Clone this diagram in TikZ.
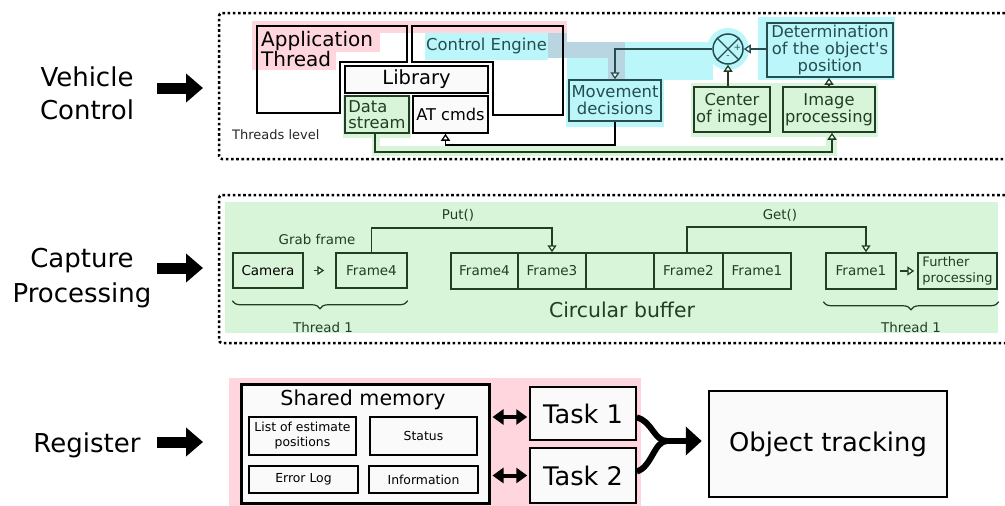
\documentclass[tikz,border=0pt]{standalone}
\usepackage{fontspec}
\setmainfont{DejaVu Sans}
\usetikzlibrary{arrows.meta,decorations.pathreplacing,calc}
\definecolor{pinkbg}{RGB}{255,214,222}
\definecolor{cyanbg}{RGB}{186,246,250}
\definecolor{graybg}{RGB}{184,213,225}
\definecolor{greenbg}{RGB}{217,245,217}
\definecolor{tealc}{RGB}{38,78,78}
\definecolor{greenc}{RGB}{34,62,34}
\definecolor{smfill}{RGB}{250,250,250}
\tikzset{
  fnt/.style 2 args={font=\fontsize{#1}{#2}\selectfont},
  box/.style={line width=1.5pt, inner sep=0pt, align=center},
  tbox/.style={box, draw=tealc, fill=cyanbg, text=tealc},
  gbox/.style={box, draw=greenc, fill=greenbg, text=greenc},
  wbox/.style={box, draw=black, fill=smfill},
  sbox/.style={box, draw=black, fill=smfill, line width=1.3pt, fnt={12.4}{15}},
  dotframe/.style={line width=2.5pt, dash pattern=on 2.6pt off 2.6pt, rounded corners=3pt},
  oarr/.style={line width=1.3pt, -{Triangle[length=7pt,width=9pt,fill=white]}},
  bigarr/.style={line width=11pt, -{Triangle[length=17pt,width=28pt]}},
  dbl/.style={line width=4pt, {Triangle[length=11pt,width=15pt]}-{Triangle[length=11pt,width=15pt]}},
  lbl/.style={align=center, inner sep=0pt},
  gtxt/.style={text=greenc, inner sep=0pt},
}
\begin{document}
\begin{tikzpicture}[x=1pt,y=-1pt]
\useasboundingbox (0,0) rectangle (1005,506);
% ---------- backgrounds (vehicle control)
\fill[pinkbg] (252,21) rectangle (567,33);
\fill[pinkbg] (252,21) rectangle (380,52);
\fill[pinkbg] (252,52) rectangle (336,70);
\fill[pinkbg] (548,21) rectangle (567,42);
\fill[cyanbg] (425,33) rectangle (548,60);
\fill[cyanbg] (567,42) rectangle (713,80);
\fill[cyanbg] (566,80) rectangle (664,127);
\fill[cyanbg] (728,49) circle[radius=21pt];
\fill[cyanbg] (758,17) rectangle (895,80);
\fill[graybg] (548,33) rectangle (567,58);
\fill[graybg] (567,42) rectangle (625,58);
\fill[graybg] (608,58) rectangle (625,80);
\fill[greenbg] (343,95) rectangle (411,138);
\fill[greenbg] (372,138) rectangle (380,156);
\fill[greenbg] (372,146) rectangle (837,156);
\fill[greenbg] (826,137) rectangle (837,156);
\fill[greenbg] (691,83) rectangle (878,137);
% ---------- frames
\draw[dotframe] (1005,13) -- (219,13) -- (219,159) -- (1005,159);
\draw[dotframe] (1005,195) -- (219,195) -- (219,343) -- (1005,343);
% ---------- left labels
\node[lbl, fnt={26}{33}] (vc) at (87,93.5) {Vehicle\\Control};
\node[lbl, fnt={26}{35}] (cp) at (82,278) {Capture\\Processing};
\node[lbl, fnt={26}{33}] (rg) at (87,445.5) {Register};
\coordinate (vca) at (157,88); \coordinate (vcb) at (203,88);
\coordinate (cpa) at (157,268); \coordinate (cpb) at (203,268);
\coordinate (rga) at (157,442); \coordinate (rgb) at (203,442);
\draw[bigarr] (vca) -- (vcb);
\draw[bigarr] (cpa) -- (cpb);
\draw[bigarr] (rga) -- (rgb);
% ---------- vehicle control
\draw[line width=2.5pt] (257,26) -- (407,26) -- (407,62) -- (340,62) -- (340,113) -- (257,113) -- cycle;
\draw[line width=2.5pt] (412,26) -- (563,26) -- (563,115) -- (493,115) -- (493,62) -- (412,62) -- cycle;
\node[fnt={20}{20}, align=left, anchor=west, inner sep=0pt] (app) at (261,49.5) {Application\\Thread};
\node[fnt={16.4}{17}, text=tealc, anchor=west, inner sep=0pt] (ce) at (426,46) {Control Engine};
\node[fnt={13}{14}, text=black!85, anchor=west, inner sep=0pt] (tl) at (232,135) {Threads level};
\node[wbox, fnt={19.5}{20}, minimum width=143pt, minimum height=27pt] (lib) at (416.5,79.5) {Library};
\node[gbox, fnt={16.3}{16.5}, align=left, minimum width=64pt, minimum height=37pt] (ds) at (377,114.5) {Data\\stream};
\node[wbox, fnt={16.2}{17}, minimum width=75pt, minimum height=37pt] (at) at (450.5,114.5) {AT cmds};
\node[tbox, fnt={16.4}{17}, minimum width=92pt, minimum height=41pt] (md) at (615,100.5) {Movement\\decisions};
\node[draw=tealc, fill=cyanbg, line width=1.5pt, circle, minimum size=30pt, inner sep=0pt] (sum) at (728,49) {};
\draw[tealc, line width=1.2pt] (sum.45) -- (sum.225) (sum.135) -- (sum.315);
\node[text=tealc, fnt={9}{9}, inner sep=0pt] (plus) at (737.5,48) {+};
\node[text=tealc, fnt={9}{9}, inner sep=0pt] (minus) at (728,57.5) {-};
\node[tbox, fnt={16.3}{17}, minimum width=126pt, minimum height=54pt] (det) at (830,50) {Determination\\of the object\textquotesingle s\\position};
\node[gbox, fnt={16.3}{17}, minimum width=76pt, minimum height=45pt] (coi) at (732,109.5) {Center\\of image};
\node[gbox, fnt={16.3}{17}, minimum width=92pt, minimum height=45pt] (ip) at (829,109.5) {Image\\processing};
\draw[tealc, oarr] (sum.west) -| (md.north);
\draw[tealc, oarr] (det.west |- sum.east) -- (sum.east);
\draw[greenc, oarr] (coi.north -| sum.south) -- (sum.south);
\draw[greenc, oarr] (ip.north) -- (ip.north |- det.south);
\coordinate (atin) at ($(at.south)+(-5,0)$);
\draw[black, oarr] (md.south) -- (md.south |- 0,145) -| (atin);
\coordinate (dsb) at ($(ds.south)+(-2,0)$);
\coordinate (ipb) at ($(ip.south)+(3,0)$);
\draw[greenc, oarr] (dsb) -- (dsb |- 0,152) -| (ipb);
% ---------- capture processing
\fill[greenbg] (225,202) rectangle (998,333);
\node[gbox, text=black, fnt={13.5}{15}, minimum width=70pt, minimum height=35pt] (cam) at (268,270.5) {Camera};
\node[gbox, fnt={13.5}{15}, minimum width=71pt, minimum height=35pt] (f4) at (371.5,270.5) {Frame4};
\node[gbox, fnt={13.5}{15}, minimum width=67pt, minimum height=36pt] (b1) at (484.5,271) {Frame4};
\node[gbox, fnt={13.5}{15}, minimum width=68pt, minimum height=36pt] (b2) at (552,271) {Frame3};
\node[gbox, fnt={13.5}{15}, minimum width=68pt, minimum height=36pt] (b3) at (620,271) {};
\node[gbox, fnt={13.5}{15}, minimum width=69pt, minimum height=36pt] (b4) at (688.5,271) {Frame2};
\node[gbox, fnt={13.5}{15}, minimum width=68pt, minimum height=36pt] (b5) at (757,271) {Frame1};
\node[gbox, fnt={13.5}{15}, minimum width=70pt, minimum height=36pt] (f1) at (861,271) {Frame1};
\node[gbox, fnt={13}{15.5}, align=left, minimum width=79pt, minimum height=36pt] (fp) at (957.5,271) {Further\\processing};
\draw[greenc, oarr] (f4.north) -- (f4.north |- 0,228) -| (b2.north);
\coordinate (g0) at ($(b4.north)+(-1.5,0)$);
\coordinate (g1) at ($(f1.north)+(5,0)$);
\draw[greenc, oarr] (g0) -- (g0 |- 0,227) -| (g1);
\draw[greenc, oarr] ($(cam.east)+(10,0)$) -- ($(f4.west)+(-11,0)$);
\draw[greenc, oarr] ($(f1.east)+(3,0)$) -- ($(fp.west)+(-3,0)$);
\node[gtxt, fnt={13.4}{15}] (grab) at (317,240) {Grab frame};
\node[gtxt, fnt={13.4}{15}] (put) at (458,215) {Put()};
\node[gtxt, fnt={13.4}{15}] (get) at (780,215) {Get()};
\node[gtxt, fnt={20.4}{22}] (cb) at (622,310) {Circular buffer};
\draw[greenc, line width=1.2pt, decorate, decoration={brace, mirror, amplitude=8pt}] ($(cam.south west)+(0,12)$) -- ($(f4.south east)+(0,12)$);
\draw[greenc, line width=1.2pt, decorate, decoration={brace, mirror, amplitude=8pt}] ($(f1.south west)+(-2,12)$) -- ($(fp.south east)+(1,12)$);
\node[gtxt, fnt={13.4}{15}] (th1) at (323,328) {Thread 1};
\node[gtxt, fnt={13.4}{15}] (th2) at (911,328) {Thread 1};
% ---------- register
\fill[pinkbg] (229,378) rectangle (641,506);
\node[draw=black, fill=smfill, line width=3pt, minimum width=248pt, minimum height=119pt, inner sep=0pt] (sm) at (365,443.5) {};
\node[fnt={20.6}{22}, inner sep=0pt] (smt) at (363,400) {Shared memory};
\node[sbox, minimum width=107pt, minimum height=38pt] (lst) at (302.5,436) {List of estimate\\positions};
\node[sbox, minimum width=107pt, minimum height=38pt] (sts) at (423.5,436) {Status};
\node[sbox, minimum width=109pt, minimum height=27pt] (err) at (303.5,479.5) {Error Log};
\node[sbox, minimum width=109pt, minimum height=27pt] (inf) at (423.5,479.5) {Information};
\node[wbox, fnt={25.6}{26}, minimum width=106pt, minimum height=53pt] (t1) at (583,413.5) {Task 1};
\node[wbox, fnt={25.6}{26}, minimum width=106pt, minimum height=55pt] (t2) at (583,475.5) {Task 2};
\node[wbox, line width=2.5pt, fnt={25.8}{26}, minimum width=238pt, minimum height=106pt] (ot) at (828,444) {Object tracking};
\coordinate (a1) at ($(t1.west)+(-2,3.5)$);
\coordinate (a0) at (sm.east |- a1);
\draw[dbl] ($(a0)+(2,0)$) -- (a1);
\coordinate (a2) at ($(t2.west)+(-2,0)$);
\coordinate (a3) at (sm.east |- a2);
\draw[dbl] ($(a3)+(2,0)$) -- (a2);
\coordinate (j) at (667,441);
\draw[line width=6pt] ($(t1.east)+(0,4)$) .. controls (652,421) and (654,441) .. (j);
\draw[line width=6pt] ($(t2.east)+(0,-4)$) .. controls (652,467) and (654,441) .. (j);
\draw[line width=6pt, -{Triangle[length=16pt,width=28pt]}] ($(j)+(-3,0)$) -- ($(ot.west)+(-6,-3)$);
\end{tikzpicture}
\end{document}
